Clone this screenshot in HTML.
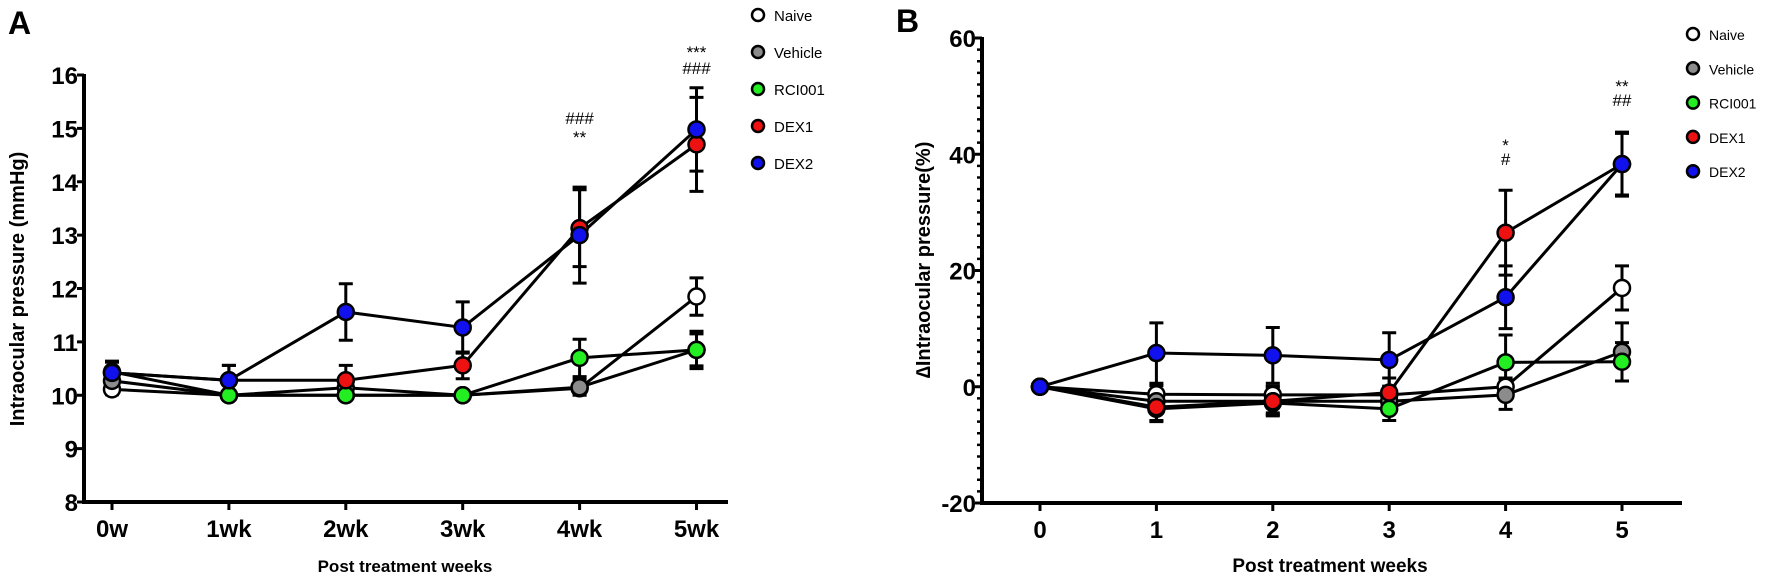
<!DOCTYPE html>
<html><head><meta charset="utf-8"><style>
body{margin:0;background:#fff;}
svg{display:block;font-family:"Liberation Sans",Arial,sans-serif;}
.tick{font-family:"Liberation Sans Narrow","Liberation Sans",sans-serif;font-weight:bold;font-size:24px;}
</style></head><body>
<svg id="chart" width="1772" height="580" viewBox="0 0 1772 580">
<text x="8" y="34" font-size="32" font-weight="bold">A</text>
<text x="896" y="32" font-size="32" font-weight="bold">B</text>
<g id="pa"></g>
<g id="pb"></g>
</svg>
<script>
const groups = ["Naive","Vehicle","RCI001","DEX1","DEX2"];
const colors = ["#ffffff","#8c8c8c","#22ee22","#ee1111","#1111ee"];
const weeksA = ["0w","1wk","2wk","3wk","4wk","5wk"];
const weeksB = ["0","1","2","3","4","5"];
const ticksA = [8,9,10,11,12,13,14,15,16];
const ticksB = [-20,0,20,40,60];
// Panel A values (mmHg)
const naiveA   = [10.11,10.0,10.0,10.0,10.13,11.85];
const vehicleA = [10.27,10.0,10.14,10.0,10.15,10.85];
const rciA     = [10.44,10.0,10.0,10.0,10.7,10.85];
const dex1A    = [10.42,10.28,10.28,10.56,13.13,14.7];
const dex2A    = [10.42,10.28,11.56,11.27,13.0,14.98];
const naiveAErr   = [0.1,0,0,0,0.1,0.35];
const vehicleAErr = [0.15,0,0.1,0,0.15,0.35];
const rciAErr     = [0.2,0,0,0,0.35,0.3];
const dex1AErr    = [0.2,0.28,0.28,0.25,0.72,0.88];
const dex2AErr    = [0.2,0.28,0.53,0.48,0.9,0.78];
// Panel B values (%)
const naiveB   = [0,-1.3,-1.4,-1.4,0,17];
const vehicleB = [0,-2.5,-2.5,-2.5,-1.4,6];
const rciB     = [0,-3.8,-2.8,-3.8,4.2,4.3];
const dex1B    = [0,-3.5,-2.5,-1,26.5,38.3];
const dex2B    = [0,5.8,5.4,4.6,15.4,38.3];
const naiveBErr   = [0,1.5,1.5,1.5,1.5,3.8];
const vehicleBErr = [0,2,2,2,2.5,5];
const rciBErr     = [0,2,2,2,4.7,3.3];
const dex1BErr    = [0,2.5,2.5,2.5,7.3,5.5];
const dex2BErr    = [0,5.2,4.8,4.7,5.4,5.3];

const NS="http://www.w3.org/2000/svg";
function mk(parent,tag,attrs){const e=document.createElementNS(NS,tag);for(const k in attrs)e.setAttribute(k,attrs[k]);parent.appendChild(e);return e;}

function panel(g,cfg){
  const sx=i=>cfg.x0+i*cfg.dx;
  const sy=v=>cfg.yTop+(cfg.yMax-v)/(cfg.yMax-cfg.yMin)*(cfg.yBot-cfg.yTop);
  let e;
  e=mk(g,"line",{x1:cfg.ax,y1:sy(cfg.yMax)-1,x2:cfg.ax,y2:cfg.yBot+2,stroke:"#000","stroke-width":4});
  
  
  e=mk(g,"line",{x1:cfg.ax-2,y1:cfg.yBot,x2:cfg.axEnd,y2:cfg.yBot,stroke:"#000","stroke-width":4});
  
  
  cfg.yticks.forEach(t=>{
    e=mk(g,"line",{x1:cfg.ax-7,y1:sy(t),x2:cfg.ax,y2:sy(t),stroke:"#000","stroke-width":3});
    
    
    e=mk(g,"text",{x:cfg.ax-6,y:sy(t)+9,"text-anchor":"end","class":"tick"});
    e.textContent=t;
    
    
  });
  if(cfg.minor){for(let v=cfg.yMin;v<=cfg.yMax;v+=cfg.minor){
    e=mk(g,"line",{x1:cfg.ax-5,y1:sy(v),x2:cfg.ax,y2:sy(v),stroke:"#000","stroke-width":2.5});
    
    
  }}
  cfg.xl.forEach((l,i)=>{
    e=mk(g,"line",{x1:sx(i),y1:cfg.yBot,x2:sx(i),y2:cfg.yBot+8,stroke:"#000","stroke-width":3});
    
    
    e=mk(g,"text",{x:sx(i),y:cfg.yBot+35,"text-anchor":"middle","class":"tick"});
    e.textContent=l;
    
    
  });
  e=mk(g,"text",{x:cfg.xtX,y:cfg.xtY,"text-anchor":"middle","font-size":cfg.xtSize,"font-weight":"bold","font-family":"Liberation Sans Narrow, Liberation Sans, sans-serif"});
  e.textContent="Post treatment weeks";
  
  
  e=mk(g,"text",{x:0,y:0,"text-anchor":"middle","font-size":20,"font-weight":"bold",transform:`translate(${cfg.ytX},${cfg.ytY}) rotate(-90)`});
  e.textContent=cfg.ytitle;
  
  
  // lines
  cfg.series.forEach((s,k)=>{
    const pts=s.map((v,i)=>sx(i)+","+sy(v)).join(" ");
    e=mk(g,"polyline",{points:pts,fill:"none",stroke:"#000","stroke-width":3});
    
    
  });
  // error bars
  cfg.series.forEach((s,k)=>{s.forEach((v,i)=>{const er=cfg.errs[k][i];if(!er)return;
    e=mk(g,"path",{d:`M${sx(i)},${sy(v+er)}V${sy(v-er)}M${sx(i)-7},${sy(v+er)}h14M${sx(i)-7},${sy(v-er)}h14`,stroke:"#000","stroke-width":3,fill:"none"});
    
    
  });});
  // markers
  cfg.series.forEach((s,k)=>{s.forEach((v,i)=>{
    e=mk(g,"circle",{cx:sx(i),cy:sy(v),r:8,fill:colors[k],stroke:"#000","stroke-width":2.5});
    
    
  });});
  // legend
  groups.forEach((gname,k)=>{
    const y=cfg.legY+k*cfg.legDy;
    e=mk(g,"circle",{cx:cfg.legX,cy:y,r:6,fill:colors[k],stroke:"#000","stroke-width":2.5});
    
    
    e=mk(g,"text",{x:cfg.legX+16,y:y+6,"font-size":cfg.legSize});
    e.textContent=gname;
    
    
  });
  cfg.ann.forEach(a=>{
    e=mk(g,"text",{x:sx(a[0]),y:a[1],"text-anchor":"middle","font-size":17});
    e.textContent=a[2];
    
    
  });
}
panel(document.getElementById("pa"),{x0:112,dx:116.9,ax:84,axEnd:728,yTop:75,yBot:502,yMin:8,yMax:16,yticks:ticksA,xl:weeksA,
  xtX:405,xtY:572,xtSize:17,ytitle:"Intraocular pressure (mmHg)",ytX:24,ytY:289,
  series:[naiveA,vehicleA,rciA,dex1A,dex2A],errs:[naiveAErr,vehicleAErr,rciAErr,dex1AErr,dex2AErr],
  legX:758,legY:15,legDy:37,legSize:15,
  ann:[[4,124,"###"],[4,143,"**"],[5,58,"***"],[5,74,"###"]]});
panel(document.getElementById("pb"),{x0:1040,dx:116.4,ax:982,axEnd:1682,yTop:38,yBot:503,yMin:-20,yMax:60,yticks:ticksB,xl:weeksB,minor:2,
  xtX:1330,xtY:572,xtSize:19,ytitle:"∆Intraocular pressure(%)",ytX:930,ytY:260,
  series:[naiveB,vehicleB,rciB,dex1B,dex2B],errs:[naiveBErr,vehicleBErr,rciBErr,dex1BErr,dex2BErr],
  legX:1693,legY:34,legDy:34.3,legSize:14,
  ann:[[4,151,"*"],[4,165,"#"],[5,92,"**"],[5,106,"##"]]});
</script>
</body></html>
